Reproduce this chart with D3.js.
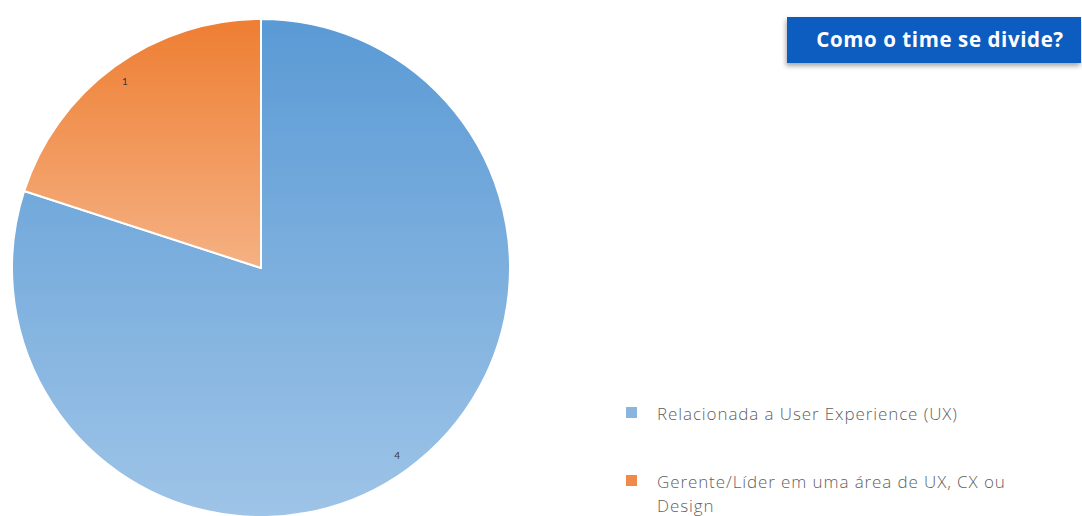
<!DOCTYPE html>
<html>
<head>
<meta charset="utf-8">
<script src="https://cdn.jsdelivr.net/npm/d3@7"></script>
<style>
  html, body { margin: 0; padding: 0; background: #ffffff; }
  svg { display: block; }
</style>
</head>
<body>
<svg id="chart" width="1082" height="516"></svg>
<script>
// Team composition
const categories = ["Relacionada a User Experience (UX)", "Gerente/Líder em uma área de UX, CX ou Design"];
const values = [4, 1];
const title = "Como o time se divide?";

const colorTop = ["#5a9ad5", "#ee7e32"];
const colorBottom = ["#9ec4e7", "#f5b183"];
const swatch = ["#8ab5df", "#f0894a"];

const W = 1082, H = 516;
const svg = d3.select("#chart");
const defs = svg.append("defs");

// vertical gradient per slice
categories.forEach((c, i) => {
  const g = defs.append("linearGradient")
    .attr("id", "grad" + i)
    .attr("x1", 0).attr("y1", 0).attr("x2", 0).attr("y2", 1);
  g.append("stop").attr("offset", "0%").attr("stop-color", colorTop[i]);
  g.append("stop").attr("offset", "100%").attr("stop-color", colorBottom[i]);
});

// title badge shadow
const shadow = defs.append("filter").attr("id", "shadow")
  .attr("x", "-10%").attr("y", "-30%").attr("width", "120%").attr("height", "180%");
shadow.append("feDropShadow").attr("dx", -1).attr("dy", 3).attr("stdDeviation", 2.5)
  .attr("flood-color", "#000").attr("flood-opacity", 0.35);

const cx = 261, cy = 268, radius = 249;

const pie = d3.pie().sort(null).value(d => d.value);
const arcs = pie(categories.map((c, i) => ({ name: c, value: values[i], i })));
const arc = d3.arc().innerRadius(0).outerRadius(radius);
const labelArc = d3.arc().innerRadius(radius * 0.93).outerRadius(radius * 0.93);

const gPie = svg.append("g").attr("transform", `translate(${cx},${cy})`);
gPie.selectAll("path.slice")
  .data(arcs)
  .join("path")
  .attr("class", "slice")
  .attr("d", arc)
  .attr("fill", d => `url(#grad${d.data.i})`)
  .attr("stroke", "#ffffff")
  .attr("stroke-width", 2)
  .attr("stroke-linejoin", "round");

gPie.selectAll("text.val")
  .data(arcs)
  .join("text")
  .attr("class", "val")
  .attr("transform", d => `translate(${labelArc.centroid(d)})`)
  .attr("text-anchor", "middle")
  .attr("dominant-baseline", "central")
  .attr("font-family", "Lato, 'DejaVu Sans', sans-serif")
  .attr("font-size", 10)
  .attr("fill", "#3a3a3a")
  .text(d => d.data.value);

// title badge
const badge = svg.append("g");
badge.append("rect")
  .attr("x", 787).attr("y", 17).attr("width", 294).attr("height", 46)
  .attr("fill", "#0d5cbf")
  .attr("filter", "url(#shadow)");
badge.append("text")
  .attr("x", 940).attr("y", 39)
  .attr("text-anchor", "middle")
  .attr("dominant-baseline", "central")
  .attr("font-family", "'Open Sans', Lato, sans-serif")
  .attr("font-weight", 700)
  .attr("font-size", 20.5)
  .attr("letter-spacing", 0.6)
  .attr("fill", "#ffffff")
  .text(title);

// legend
const legendX = 626, textX = 657, maxW = 365, lineH = 24;
const legendY = [413, 481];
const legend = svg.append("g");
categories.forEach((c, i) => {
  const y = legendY[i];
  legend.append("rect")
    .attr("x", legendX).attr("y", y - 6).attr("width", 11).attr("height", 11)
    .attr("fill", swatch[i]);
  const t = legend.append("text")
    .attr("x", textX).attr("y", y)
    .attr("dominant-baseline", "central")
    .attr("font-family", "'Open Sans', Lato, sans-serif")
    .attr("font-weight", 300)
    .attr("font-size", 17)
    .attr("letter-spacing", 0.9)
    .attr("fill", "#5f5f5f");
  // word wrap
  const words = c.split(" ");
  let line = [], tspan = t.append("tspan").attr("x", textX).attr("dy", 0);
  words.forEach(w => {
    line.push(w);
    tspan.text(line.join(" "));
    if (tspan.node().getComputedTextLength() > maxW && line.length > 1) {
      line.pop();
      tspan.text(line.join(" "));
      line = [w];
      tspan = t.append("tspan").attr("x", textX).attr("dy", lineH).text(w);
    }
  });
});
</script>
</body>
</html>
